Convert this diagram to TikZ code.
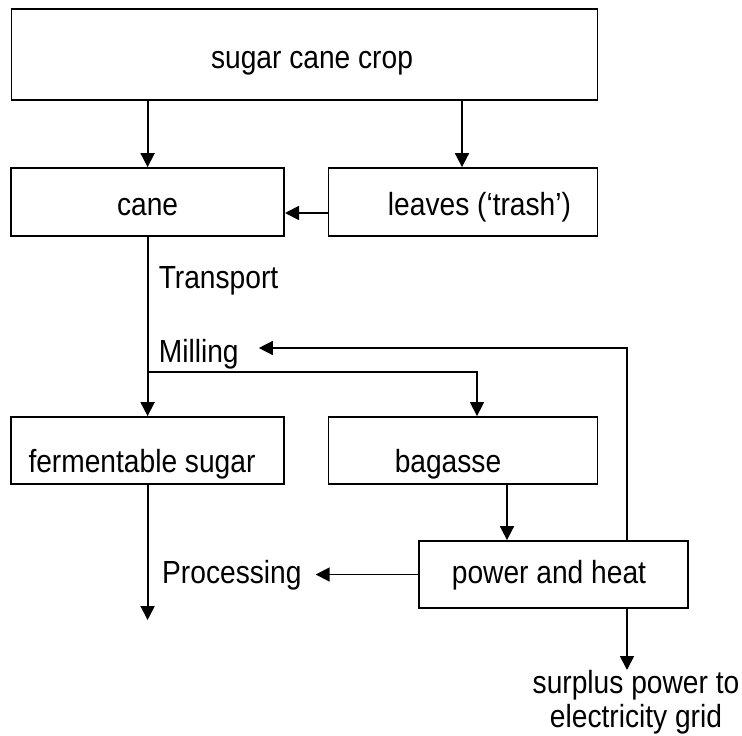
\documentclass[tikz,border=0pt]{standalone}
\usepackage{fontspec}
\setmainfont{Liberation Sans}[FakeStretch=0.88]
\usetikzlibrary{arrows.meta}
\begin{document}
\begin{tikzpicture}[x=1pt,y=-1pt,
  box/.style={draw, line width=1.8pt, inner sep=0pt},
  txt/.style={inner sep=0pt, font=\fontsize{32}{34}\selectfont},
  arr/.style={line width=1.8pt, -{Triangle[length=14pt,width=14pt]}},
  thinarr/.style={line width=1.4pt, -{Triangle[length=14pt,width=14pt]}}]
\useasboundingbox (0,0) rectangle (742,736);
% boxes
\node[box, minimum width=586pt, minimum height=91pt] (crop) at (304.5,54.5) {};
\node[box, minimum width=273pt, minimum height=68pt] (cane) at (147.6,202) {};
\node[box, minimum width=269pt, minimum height=68pt] (leaves) at (463,202) {};
\node[box, minimum width=273pt, minimum height=67pt] (ferm) at (147.6,450.5) {};
\node[box, minimum width=269pt, minimum height=67pt] (bagasse) at (463,450.5) {};
\node[box, minimum width=269pt, minimum height=67pt] (power) at (553.5,574.5) {};
% texts
\node[txt, anchor=base] (croptext) at (312,68) {sugar cane crop};
\node[txt, anchor=base] (canetext) at (147.6,215) {cane};
\node[txt, anchor=base] (leavestext) at (479.5,215) {leaves (‘trash’)};
\node[txt, anchor=base] (fermtext) at (142,472) {fermentable sugar};
\node[txt, anchor=base] (bagtext) at (448,472) {bagasse};
\node[txt, anchor=base] (powertext) at (549,583) {power and heat};
\node[txt, anchor=base west] (transport) at (158.6,288) {Transport};
\node[txt, anchor=base west] (mill) at (158.6,362) {Milling};
\node[txt, anchor=base west] (proc) at (162,583) {Processing};
\node[txt, anchor=north, align=center] (surplus) at (636,670) {surplus power to\\electricity grid};
% helper coordinates
\coordinate (split) at (147.6,372);
\coordinate (fbtop) at (627,348);
\coordinate (procend) at (147.6,620);
% connectors
\draw[arr] (crop.south -| cane.north) -- (cane.north);
\draw[arr] ([xshift=-1pt]crop.south -| leaves.north) -- ([xshift=-1pt]leaves.north);
\draw[arr] ([yshift=-11pt]leaves.west) -- ([yshift=-11pt]leaves.west -| cane.east);
\draw[arr] (cane.south) -- (ferm.north);
\draw[thinarr] (split) -| ([xshift=14pt]bagasse.north);
\draw[arr] ([xshift=44pt]bagasse.south) -- ([xshift=44pt]bagasse.south |- power.north);
\draw[arr] (power.west) -- ([xshift=14pt]proc.east |- power.west);
\draw[thinarr] (power.north -| fbtop) -- (fbtop) -- ([xshift=20pt]mill.east |- fbtop);
\draw[arr] (power.south -| fbtop) -- (surplus.north -| fbtop);
\draw[arr] (ferm.south) -- (procend);
\end{tikzpicture}
\end{document}
